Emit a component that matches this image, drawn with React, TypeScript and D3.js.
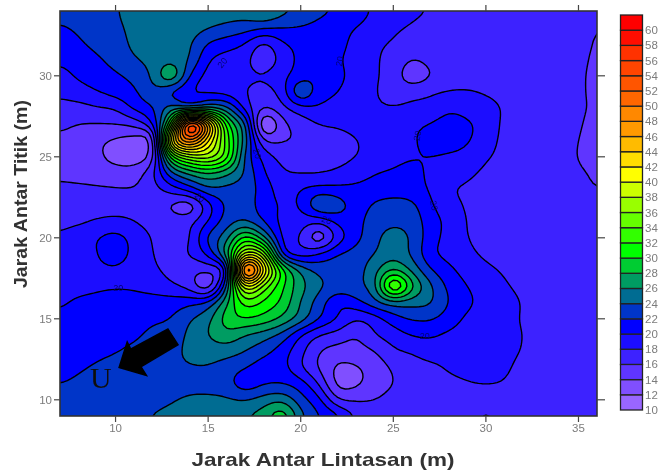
import * as d3 from "d3";

const width = 658;
const height = 470;
const pad = { left: 60, right: 61, top: 11, bottom: 54 };

const xTicks = [10, 15, 20, 25, 30, 35];
const yTicks = [10, 15, 20, 25, 30];
const levels = d3.range(10, 62, 2);
const legendColors = [
  "#9966ff", "#8050ff", "#5e35ff", "#3d22ff", "#1e10ff", "#0000ff", "#0036c8",
  "#006c92", "#009c62", "#00cc33", "#00ff00", "#33ff00", "#66ff00", "#99ff00",
  "#ccff00", "#ffff00", "#ffdd00", "#ffbb00", "#ff9900", "#ff8800", "#ff6600",
  "#ff5500", "#ff4400", "#ff3300", "#ff1100", "#ff0000",
];

// one row per metre, top (y = 34) to bottom (y = 9), columns x = 7 .. 36
const gridRows = [
  [22.8,23,23.4,23.9,24.5,25,25,25,25,25,25,26.3,24.6,23.5,22.5,21.7,20.6,19.8,19.2,18.4,17.9,17.6,17.4,17.3,17.3,17.3,17.2,17.2,17,16.6],
  [21.8,22.4,23,23.7,24.4,25,25.2,24.9,24.2,23.5,23,22.4,22.1,21.9,21.4,20.7,20,19.4,18.4,17.8,17.4,17.2,17.2,17.1,17.1,17.1,17,17,16.8,16],
  [20.8,21.7,22.6,23.2,24.4,25,25.2,24.3,21.9,21,20,17.7,19.8,20.6,21,20.6,19.4,18.4,17.8,17.1,17,17,17,17,17,17,17,16.9,16.6,15.8],
  [20.3,20.8,21.7,22.7,23.8,24.6,25.3,23.9,20.2,19.2,18.6,16.5,18.8,20.5,21,20.2,19.3,18.2,17.4,16,16.6,17,17,17,17,17,17,16.9,16.4,15.7],
  [19.4,20.3,21,21.7,22.6,24.3,28,21.9,19.4,18.9,18.5,18.2,19.4,21,21.6,20.4,19.4,18.2,17.2,14.6,16,17,17,17,17,17,17,16.9,16.3,15.6],
  [18.4,19.1,19.9,20.8,21.6,23.5,21.7,20.2,19.7,19.2,18.1,17.2,18.9,24,20.7,20,19.2,18.1,17.4,17.5,17.8,18.1,18.2,17.8,17.4,17.1,17,17,16.3,15.6],
  [17.4,17.3,17.8,18.2,20.4,21.8,25,24,26,24.5,19.3,15.9,17.4,19.2,19.7,19.5,19.2,18.3,18.1,18.3,18.5,19.6,19.2,18.7,17.8,17.2,17,17,16.3,15.7],
  [16.5,16,15.9,16,16.6,20,32,58,46,31,24.5,11.5,15.4,16.9,18,18.2,18.6,19,19.3,19.6,20.1,20.9,20.3,19.2,17.6,17.1,17,17,16.2,15.4],
  [15.5,14.9,14.4,13.7,13.2,13.8,42,50,42,33,25,16,15.9,16.3,17.1,17.5,17.9,18.7,19.1,19.7,20.8,21.2,20.2,18.9,17.5,17.1,17,16.9,16,15.2],
  [15.2,14.8,14.4,13.3,13,15,31,36,37,33,23.5,19.3,17.3,17,17.4,17.6,18,18.7,19.3,19.8,20,19.6,19.2,18.2,17.5,17.1,17,16.9,15.9,15.2],
  [15.7,15.3,15,14.9,15,17.5,23.5,26.5,28,26.5,23.7,20.2,18.3,17.9,17.9,18.3,18.9,19.9,20.3,20.8,19.5,18.9,18.3,17.7,17.3,17.1,17,16.9,16.3,15.7],
  [16.3,16.4,16.3,16.1,16.1,17.2,19,21,23.6,23.4,23,21.2,19,20,20.7,20.6,20.6,21,21.3,20.9,19.8,18.2,17.8,17.6,17.4,17.2,17,16.9,16.5,16],
  [16.8,16.8,17.2,17.5,17.4,17,15.8,14.8,19.2,22.4,23,21,19.8,20.2,24,23,21.2,22.3,22.6,22.5,20.3,18.7,17.8,17.5,17.3,17.2,17.1,17,16.9,16.7],
  [17.6,17.7,18.2,18.3,18,17.3,17,17.4,20.1,23,24.2,22,19.4,19,18.4,20.6,21.4,22.9,23.5,23.1,21,19.4,17.9,17.4,17.2,17.1,17,17,17,16.9],
  [18.2,19,19.9,20.8,19.2,17.9,16.5,17.9,22.4,25.2,31,26.5,19.7,17.9,14.5,18.9,21.4,23.4,25,23.7,20.9,19.3,18,17.6,17.3,17.1,17,17,17,17],
  [18.6,19.2,19.9,21.2,19.3,18.1,17,18.2,20.6,27,39,36,21.5,19,20.2,22,22.8,24,25.3,23.7,20.5,19.4,18.4,17.7,17.3,17.1,17,17,17,17],
  [19,19.3,19.6,19.6,19,18.4,17.4,16.7,16.5,20,54,42,31,25.5,23.4,23,23.2,25.3,28.2,25.5,22.2,20.5,19.2,18.4,17.8,17.3,17.1,17,17,17],
  [19.2,19.5,19.8,19.9,19.8,19.2,18.4,17.2,14.5,24,40,35,30.3,26.7,24.4,23.2,23.6,25.3,35,28.5,24.4,21.5,20,19,18.2,17.6,17.2,17.1,17,17],
  [19.8,20.3,20.4,20.5,20.6,20.9,21,21.5,22.5,27.5,33,31.5,29.5,25.8,23,20.3,21.3,23.3,25,24.7,24.2,21.9,20.4,19.3,18.6,17.9,17.3,17.1,17,17],
  [20.3,20.6,20.9,21,21.3,21.7,22,23.8,25.3,29,30,29.2,27.5,25,22,19.9,18.1,19.1,21.1,22.2,22.2,21,19.6,19,18.4,17.9,17.3,17.1,17,17],
  [20.6,20.9,21.1,21.4,21.7,22.4,23,24.4,26,27.3,26,25,23.3,20.1,18,17.2,16.1,17.9,19,20.1,20.3,19.6,19.2,18.9,18.4,18,17.4,17.1,17,17],
  [21,21.3,21.6,21.9,22.4,23,23.6,24.3,24.8,24.9,24,22.7,21,18.6,16.1,15.2,15.3,16,17.7,18.2,18.9,18.6,18.9,18.9,18.5,17.9,17.3,17.1,17,17],
  [21.4,21.8,22.2,22.6,23,23.4,23.7,23.9,23.9,23.1,22.1,21,20.7,18.2,15.8,13.6,13.8,14.9,16.3,17.2,17.6,18.2,18.5,18.6,18.3,17.5,17.2,17.1,17,17],
  [22,22.3,22.6,22.8,23,23.2,23.4,23.4,23.2,22.7,20.8,21.8,22,20.9,17.8,13.3,13.6,15,16,16.9,17.3,17.6,17.9,18,17.9,17.3,17.1,17,17,17],
  [22.6,22.7,22.9,23,23,23.3,23.8,24.3,24.5,24.3,23.9,24.9,25.5,22.8,20.5,16.2,15.8,16,16.7,17,17.2,17.4,17.6,17.7,17.5,17.2,17,17,17,17],
  [23,23.1,23.1,23.2,23.4,24.1,24.6,25,25.3,25.5,25.9,27,29.5,24.6,22.1,20.5,17.7,17.3,17.3,17.4,17.5,17.6,17.8,18.1,17.8,17.3,17,17,17,17],
];

// contour labels: x, y, rotation
const contourLabels: [number, number, number][] = [
  [15.76, 30.8, -50],
  [22.1, 30.9, -80],
  [26.3, 26.3, -80],
  [27.2, 22, 80],
  [26.7, 13.95, 0],
  [10.15, 16.9, 0],
  [17.65, 25.2, 75],
  [14.55, 22.5, 40],
  [21.4, 21.1, 20],
];

// north arrow outline in axis units
const arrowOutline: [number, number][] = [
  [12.84, 14.43], [13.43, 13.38], [11.43, 12.03], [11.76, 11.42],
  [10.14, 11.97], [10.62, 13.69], [10.84, 13.2],
];

const x = d3.scaleLinear().domain([7, 36]).range([pad.left, width - pad.right]);
const y = d3.scaleLinear().domain([9, 34]).range([height - pad.bottom, pad.top]);
const legendY = d3.scaleLinear().domain([10, 62]).range([410, 15]);

const nx = gridRows[0].length;
const ny = gridRows.length;

// the read grid is coarse, so the contour renderer samples it through a
// bicubic kernel held inside each cell's range, then softens it a little
const refine = 5;
const cr = (p0: number, p1: number, p2: number, p3: number, t: number) =>
  p1 + 0.5 * t * (p2 - p0 + t * (2 * p0 - 5 * p1 + 4 * p2 - p3 + t * (3 * (p1 - p2) + p3 - p0)));
const at = (i: number, j: number) =>
  gridRows[Math.max(0, Math.min(ny - 1, j))][Math.max(0, Math.min(nx - 1, i))];

const fineW = (nx - 1) * refine + 1;
const fineH = (ny - 1) * refine + 1;
const fine = new Float64Array(fineW * fineH);
for (let fj = 0; fj < fineH; fj++) {
  for (let fi = 0; fi < fineW; fi++) {
    const i = Math.min(nx - 2, Math.floor(fi / refine));
    const j = Math.min(ny - 2, Math.floor(fj / refine));
    const tx = fi / refine - i;
    const ty = fj / refine - j;
    const col = [-1, 0, 1, 2].map((dj) =>
      cr(at(i - 1, j + dj), at(i, j + dj), at(i + 1, j + dj), at(i + 2, j + dj), tx)
    );
    const v = cr(col[0], col[1], col[2], col[3], ty);
    const corners = [at(i, j), at(i + 1, j), at(i, j + 1), at(i + 1, j + 1)];
    fine[fj * fineW + fi] = Math.max(d3.min(corners)!, Math.min(d3.max(corners)!, v));
  }
}
d3.blur2({ data: fine as any, width: fineW, height: fineH }, 1);

const contours = d3.contours().size([fineW, fineH]).thresholds(levels)(fine as any);

const ringLine = d3
  .line<number[]>()
  .x((p) => x(7 + (p[0] - 0.5) / refine))
  .y((p) => y(34 - (p[1] - 0.5) / refine));

function contourPath(c: any) {
  return c.coordinates
    .flatMap((poly: number[][][]) => poly.map((ring) => ringLine(ring) + "Z"))
    .join(" ");
}

const sans = "'Liberation Sans', Arial, sans-serif";
const tickColor = "#7c7c7c";

export default function App() {
  const plotW = width - pad.left - pad.right;
  const plotH = height - pad.top - pad.bottom;

  return (
    <svg
      width={width}
      height={height}
      viewBox={`0 0 ${width} ${height}`}
      style={{ position: "absolute", left: 0, top: 0, display: "block", background: "#fff" }}
    >
      <defs>
        <clipPath id="plot">
          <rect x={pad.left} y={pad.top} width={plotW} height={plotH} />
        </clipPath>
        <filter id="soft" x="-2%" y="-2%" width="104%" height="104%">
          <feGaussianBlur stdDeviation="0.55" />
        </filter>
      </defs>

      <g filter="url(#soft)">
        <g clipPath="url(#plot)">
          {contours.map((c, i) => (
            <path
              key={c.value}
              d={contourPath(c)}
              fill={legendColors[i]}
              fillRule="evenodd"
              stroke="#000"
              strokeWidth={1.4}
              strokeLinejoin="round"
            />
          ))}
          {contourLabels.map(([lx, ly, rot], i) => (
            <text
              key={i}
              transform={`translate(${x(lx)}, ${y(ly)}) rotate(${rot})`}
              textAnchor="middle"
              dy="0.35em"
              fontFamily={sans}
              fontSize={9}
              fill="#000078"
            >
              20
            </text>
          ))}
        </g>

        <rect x={pad.left} y={pad.top} width={plotW} height={plotH} fill="none" stroke="#333" strokeWidth={1.6} />

        {xTicks.map((t) => (
          <g key={t}>
            <line x1={x(t)} x2={x(t)} y1={pad.top - 6} y2={pad.top} stroke="#444" strokeWidth={1.2} />
            <line x1={x(t)} x2={x(t)} y1={height - pad.bottom} y2={height - pad.bottom + 6} stroke="#444" strokeWidth={1.2} />
            <text x={x(t)} y={432} textAnchor="middle" fontFamily={sans} fontSize={11.5} fill={tickColor}>
              {t}
            </text>
          </g>
        ))}
        {yTicks.map((t) => (
          <g key={t}>
            <line x1={pad.left - 6} x2={pad.left} y1={y(t)} y2={y(t)} stroke="#444" strokeWidth={1.2} />
            <line x1={width - pad.right} x2={width - pad.right + 8} y1={y(t)} y2={y(t)} stroke="#444" strokeWidth={1.2} />
            <text x={52} y={y(t) + 4} textAnchor="end" fontFamily={sans} fontSize={11.5} fill={tickColor}>
              {t}
            </text>
          </g>
        ))}

        <path
          d={(d3.line().x((p) => x(p[0])).y((p) => y(p[1])).curve(d3.curveLinearClosed) as any)(arrowOutline)}
          fill="#000"
        />
        <text x={x(9.2)} y={y(10.75)} textAnchor="middle" fontFamily="'Liberation Serif', serif" fontSize={30} fill="#111">
          U
        </text>

        {levels.map((lv, i) => (
          <g key={lv}>
            <rect
              x={620.5}
              y={legendY(lv + 2)}
              width={22}
              height={legendY(lv) - legendY(lv + 2)}
              fill={legendColors[i]}
              stroke="#222"
              strokeWidth={1.3}
            />
            <text x={645} y={legendY(lv) + 4} fontFamily={sans} fontSize={11.5} fill={tickColor}>
              {lv}
            </text>
          </g>
        ))}

        <text
          x={323}
          y={466}
          textAnchor="middle"
          textLength={263}
          lengthAdjust="spacingAndGlyphs"
          fontFamily={sans}
          fontWeight={700}
          fontSize={19}
          fill="#333"
        >
          Jarak Antar Lintasan (m)
        </text>
        <text
          transform="translate(27, 194) rotate(-90)"
          textAnchor="middle"
          textLength={188}
          lengthAdjust="spacingAndGlyphs"
          fontFamily={sans}
          fontWeight={700}
          fontSize={18}
          fill="#333"
        >
          Jarak Antar Titik (m)
        </text>
      </g>
    </svg>
  );
}
